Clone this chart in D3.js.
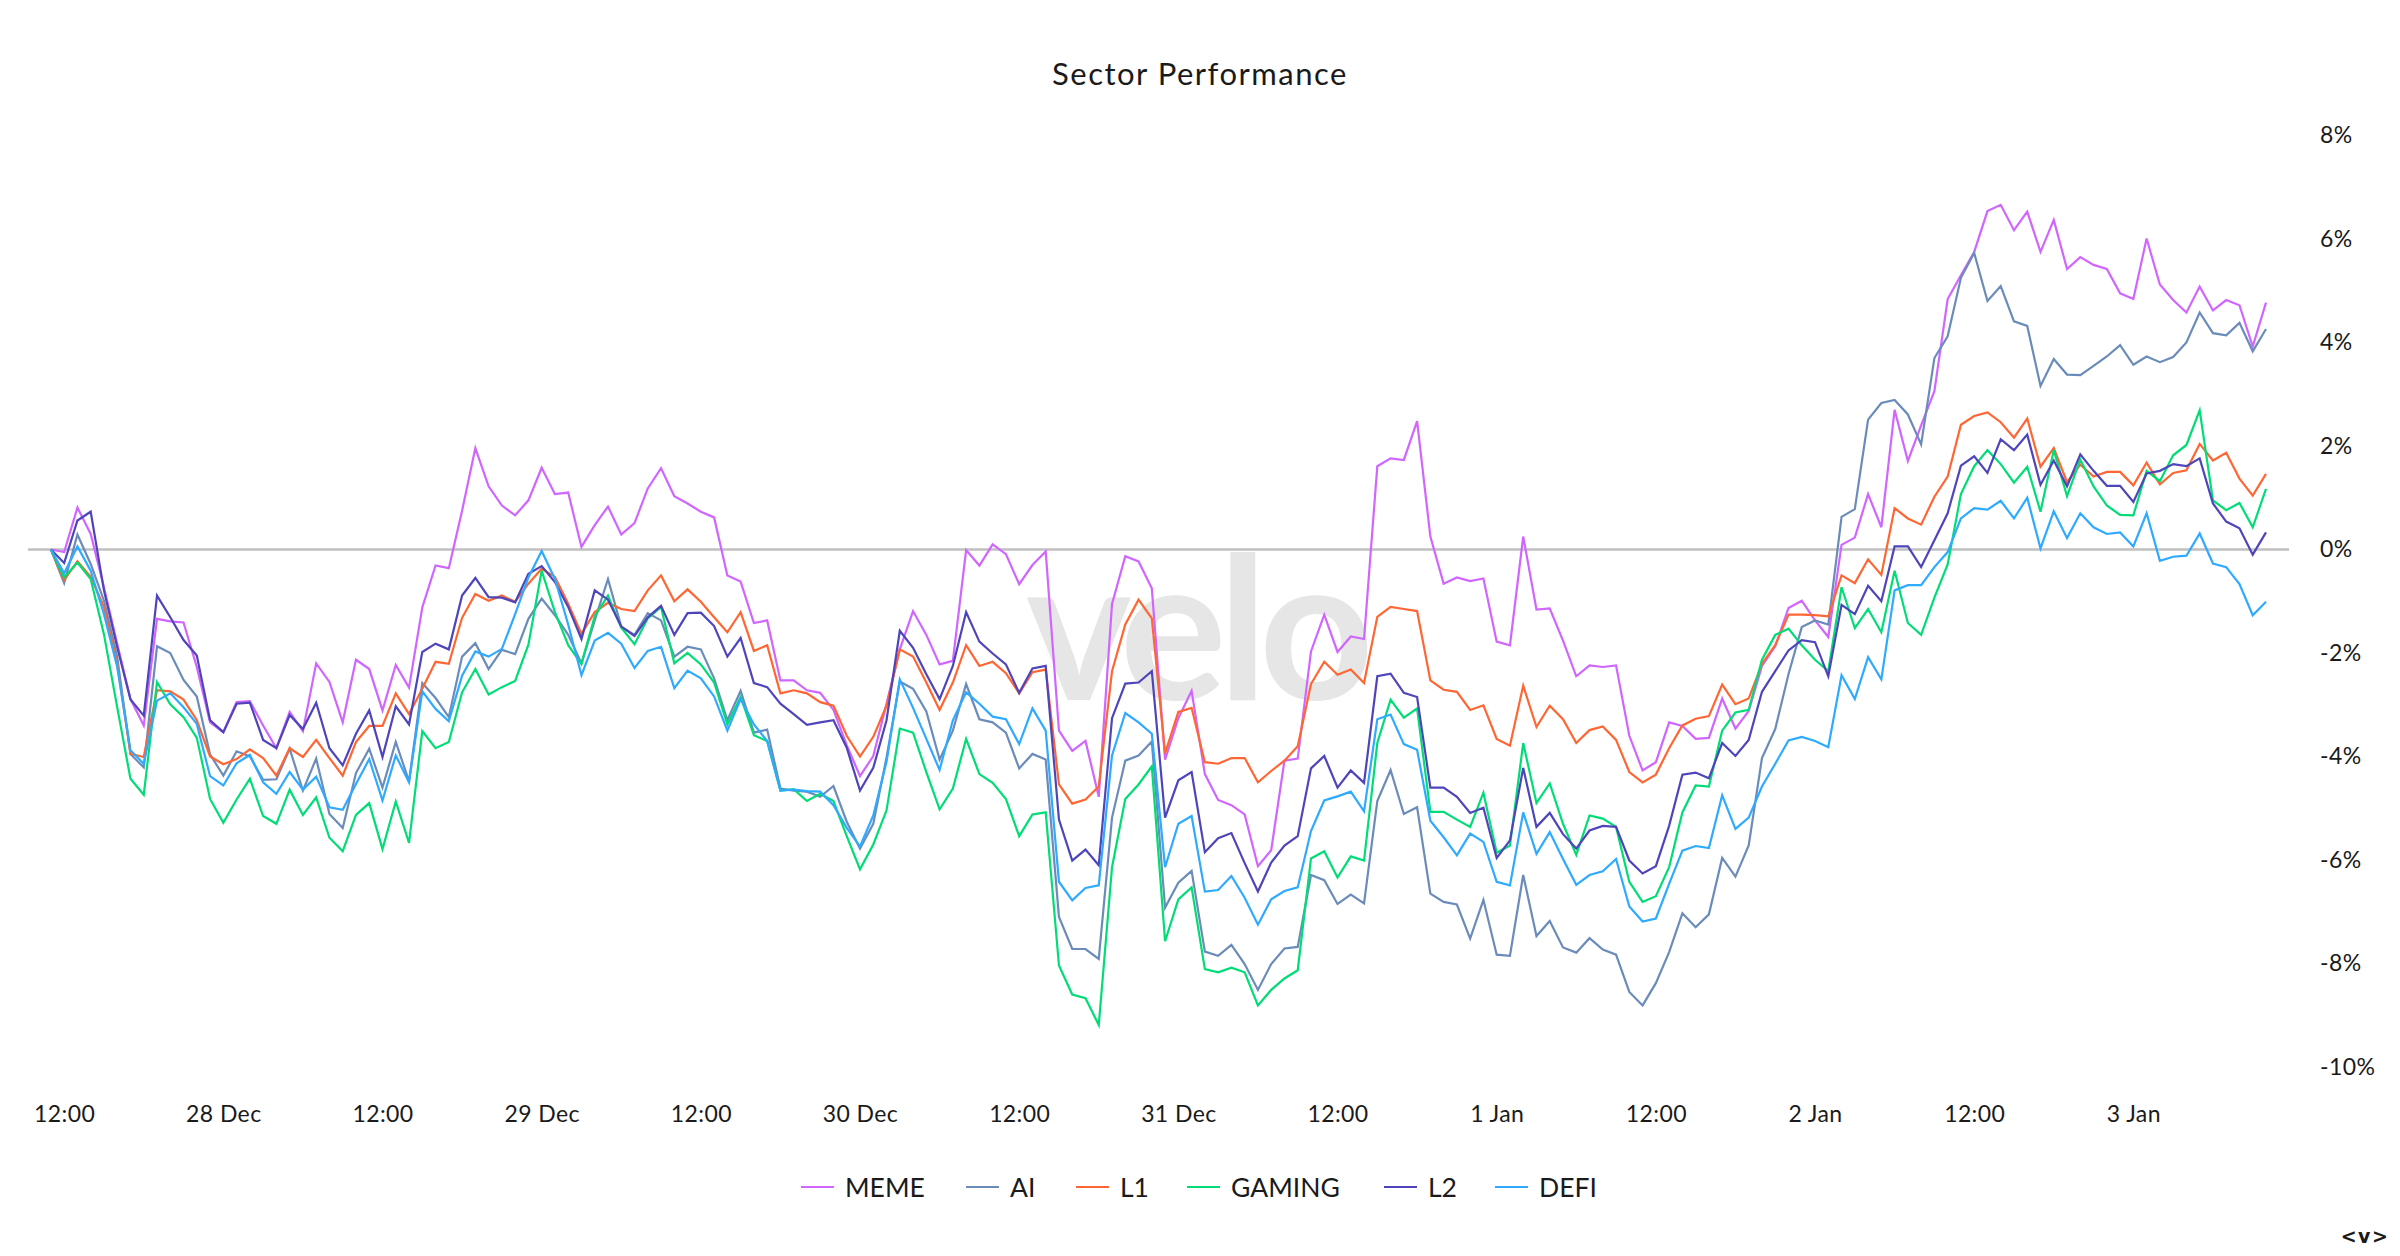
<!DOCTYPE html>
<html>
<head>
<meta charset="utf-8">
<script src="https://cdn.jsdelivr.net/npm/d3@7"></script>
<style>
  html, body { margin: 0; padding: 0; background: #fff; }
  svg { display: block; }
  text { font-family: Lato, "Noto Sans", sans-serif; fill: #1a1a1a; }
</style>
</head>
<body>
<script>
var WIDTH = 2400, HEIGHT = 1256;

// hourly closes, % change since the first hour
var meme = [
  0,-0.05,0.81,0.30,-0.73,-1.82,-2.89,-3.40,-1.34,-1.39,
  -1.41,-2.27,-3.34,-3.53,-2.95,-2.93,-3.40,-3.84,-3.14,-3.51,
  -2.20,-2.56,-3.34,-2.13,-2.31,-3.11,-2.23,-2.67,-1.12,-0.31,
  -0.36,0.75,1.96,1.22,0.85,0.66,0.95,1.58,1.07,1.10,
  0.05,0.47,0.83,0.29,0.51,1.18,1.57,1.03,0.89,0.73,
  0.62,-0.50,-0.62,-1.42,-1.37,-2.53,-2.53,-2.72,-2.77,-3.10,
  -3.78,-4.38,-3.99,-2.98,-1.93,-1.19,-1.65,-2.22,-2.15,-0.01,
  -0.31,0.10,-0.09,-0.67,-0.30,-0.04,-3.50,-3.89,-3.70,-4.78,
  -1.05,-0.13,-0.23,-0.75,-4.06,-3.26,-2.73,-4.34,-4.84,-4.94,
  -5.12,-6.12,-5.81,-4.08,-4.04,-1.97,-1.26,-1.98,-1.68,-1.73,
  1.61,1.76,1.73,2.48,0.25,-0.66,-0.54,-0.61,-0.56,-1.78,
  -1.85,0.25,-1.16,-1.14,-1.76,-2.45,-2.24,-2.27,-2.24,-3.60,
  -4.27,-4.11,-3.34,-3.41,-3.66,-3.64,-2.88,-3.46,-3.12,-2.25,
  -1.87,-1.13,-0.99,-1.37,-1.69,0.09,0.23,1.07,0.43,2.70,
  1.71,2.40,3.06,4.84,5.30,5.75,6.54,6.66,6.17,6.53,
  5.75,6.37,5.42,5.65,5.50,5.42,4.95,4.84,6.01,5.12,
  4.82,4.58,5.08,4.62,4.82,4.72,3.92,4.77
];
var ai = [
  0,-0.65,0.29,-0.28,-0.99,-2.08,-3.95,-4.21,-1.87,-2.00,
  -2.52,-2.84,-3.96,-4.37,-3.90,-4.00,-4.45,-4.44,-3.85,-4.66,
  -4.04,-5.11,-5.38,-4.32,-3.85,-4.60,-3.72,-4.48,-2.58,-2.87,
  -3.24,-2.07,-1.81,-2.31,-1.94,-2.02,-1.34,-0.95,-1.27,-1.65,
  -2.20,-1.37,-0.57,-1.49,-1.65,-1.23,-1.37,-2.07,-1.88,-1.93,
  -2.49,-3.30,-2.73,-3.54,-3.48,-4.62,-4.66,-4.68,-4.78,-4.57,
  -5.26,-5.78,-5.30,-4.02,-2.55,-2.69,-3.13,-4.06,-3.50,-2.60,
  -3.28,-3.34,-3.54,-4.23,-3.95,-4.06,-7.10,-7.72,-7.72,-7.91,
  -5.18,-4.08,-3.98,-3.71,-6.92,-6.44,-6.21,-7.77,-7.85,-7.64,
  -8.01,-8.51,-8.01,-7.71,-7.68,-6.29,-6.39,-6.85,-6.67,-6.84,
  -4.86,-4.26,-5.11,-4.98,-6.65,-6.81,-6.86,-7.52,-6.77,-7.83,
  -7.85,-6.29,-7.47,-7.18,-7.69,-7.79,-7.51,-7.73,-7.83,-8.55,
  -8.81,-8.38,-7.78,-7.03,-7.30,-7.05,-5.96,-6.32,-5.72,-4.03,
  -3.47,-2.41,-1.50,-1.37,-1.45,0.63,0.78,2.51,2.83,2.89,
  2.61,2.03,3.70,4.12,5.25,5.73,4.80,5.09,4.41,4.32,
  3.16,3.68,3.38,3.37,3.55,3.73,3.95,3.57,3.73,3.62,
  3.72,4.00,4.58,4.18,4.14,4.38,3.83,4.26
];
var l1 = [
  0,-0.59,-0.23,-0.53,-1.11,-2.21,-3.95,-4.01,-2.72,-2.74,
  -2.90,-3.30,-4.00,-4.15,-4.05,-3.86,-4.03,-4.37,-3.84,-4.01,
  -3.68,-4.03,-4.37,-3.72,-3.41,-3.41,-2.78,-3.18,-2.69,-2.17,
  -2.21,-1.32,-0.86,-0.99,-0.89,-1.01,-0.66,-0.37,-0.53,-1.05,
  -1.63,-1.21,-1.03,-1.15,-1.19,-0.79,-0.50,-1.00,-0.77,-1.01,
  -1.31,-1.60,-1.21,-1.96,-1.85,-2.78,-2.72,-2.78,-2.95,-3.02,
  -3.60,-4.00,-3.62,-3.02,-1.93,-2.07,-2.57,-3.10,-2.57,-1.85,
  -2.25,-2.17,-2.39,-2.78,-2.37,-2.32,-4.54,-4.91,-4.83,-4.58,
  -2.35,-1.45,-0.97,-1.33,-3.94,-3.14,-3.06,-4.11,-4.14,-4.03,
  -4.03,-4.50,-4.28,-4.08,-3.80,-2.60,-2.17,-2.42,-2.32,-2.58,
  -1.30,-1.11,-1.15,-1.19,-2.53,-2.71,-2.75,-3.10,-3.01,-3.66,
  -3.79,-2.63,-3.43,-3.02,-3.28,-3.74,-3.49,-3.42,-3.68,-4.30,
  -4.50,-4.35,-3.84,-3.40,-3.27,-3.22,-2.61,-2.99,-2.88,-2.21,
  -1.85,-1.26,-1.26,-1.27,-1.29,-0.50,-0.65,-0.19,-0.49,0.80,
  0.60,0.48,1.02,1.41,2.41,2.58,2.65,2.46,2.16,2.53,
  1.60,1.96,1.30,1.64,1.41,1.50,1.50,1.24,1.68,1.26,
  1.48,1.53,2.04,1.72,1.87,1.37,1.04,1.46
];
var gaming = [
  0,-0.54,-0.25,-0.57,-1.64,-3.05,-4.43,-4.74,-2.56,-2.99,
  -3.24,-3.64,-4.82,-5.28,-4.83,-4.43,-5.15,-5.30,-4.64,-5.13,
  -4.79,-5.57,-5.83,-5.13,-4.90,-5.79,-4.87,-5.67,-3.51,-3.84,
  -3.72,-2.76,-2.31,-2.80,-2.66,-2.54,-1.84,-0.41,-1.21,-1.85,
  -2.21,-1.29,-0.89,-1.51,-1.83,-1.33,-1.11,-2.20,-2.00,-2.22,
  -2.57,-3.38,-2.85,-3.59,-3.70,-4.66,-4.63,-4.86,-4.72,-4.86,
  -5.54,-6.18,-5.70,-5.04,-3.46,-3.54,-4.30,-5.02,-4.62,-3.66,
  -4.34,-4.51,-4.82,-5.54,-5.12,-5.08,-8.04,-8.60,-8.67,-9.19,
  -6.14,-4.82,-4.54,-4.19,-7.57,-6.76,-6.53,-8.11,-8.17,-8.08,
  -8.17,-8.81,-8.51,-8.29,-8.13,-5.97,-5.83,-6.34,-5.93,-6.01,
  -3.74,-2.90,-3.25,-3.07,-5.07,-5.07,-5.22,-5.36,-4.70,-5.86,
  -5.72,-3.74,-4.90,-4.52,-5.30,-5.90,-5.14,-5.20,-5.36,-6.42,
  -6.81,-6.70,-6.14,-5.08,-4.56,-4.58,-3.50,-3.15,-3.10,-2.13,
  -1.65,-1.53,-1.85,-2.13,-2.35,-0.73,-1.52,-1.15,-1.60,-0.41,
  -1.42,-1.65,-0.93,-0.29,1.07,1.61,1.92,1.65,1.29,1.60,
  0.73,1.92,1.03,1.74,1.22,0.85,0.67,0.66,1.52,1.32,
  1.82,2.02,2.69,0.95,0.76,0.90,0.43,1.17
];
var l2 = [
  0,-0.26,0.56,0.73,-0.79,-1.89,-2.90,-3.21,-0.89,-1.31,
  -1.75,-2.05,-3.30,-3.53,-2.98,-2.96,-3.68,-3.84,-3.20,-3.47,
  -2.96,-3.84,-4.17,-3.56,-3.11,-4.01,-3.03,-3.38,-1.98,-1.82,
  -1.93,-0.89,-0.55,-0.92,-0.93,-1.02,-0.47,-0.32,-0.63,-1.11,
  -1.73,-0.79,-0.97,-1.49,-1.67,-1.31,-1.09,-1.65,-1.23,-1.22,
  -1.48,-2.07,-1.71,-2.58,-2.66,-2.98,-3.18,-3.39,-3.34,-3.30,
  -3.83,-4.66,-4.22,-3.30,-1.57,-1.90,-2.41,-2.89,-2.25,-1.21,
  -1.78,-2.01,-2.22,-2.77,-2.30,-2.25,-5.22,-6.01,-5.80,-6.10,
  -3.26,-2.59,-2.57,-2.35,-5.18,-4.46,-4.30,-5.85,-5.58,-5.48,
  -6.06,-6.61,-6.05,-5.72,-5.54,-4.23,-3.99,-4.60,-4.27,-4.51,
  -2.45,-2.40,-2.77,-2.85,-4.60,-4.60,-4.78,-5.09,-4.99,-5.96,
  -5.62,-4.22,-5.36,-5.09,-5.50,-5.78,-5.43,-5.34,-5.36,-6.01,
  -6.26,-6.12,-5.34,-4.35,-4.31,-4.42,-3.74,-3.99,-3.68,-2.75,
  -2.35,-1.95,-1.75,-1.79,-2.45,-1.07,-1.25,-0.70,-1.00,0.06,
  0.06,-0.34,0.18,0.70,1.62,1.80,1.48,2.13,1.92,2.22,
  1.25,1.72,1.22,1.84,1.52,1.23,1.23,0.92,1.47,1.52,
  1.65,1.61,1.76,0.89,0.54,0.41,-0.10,0.33
];
var defi = [
  0,-0.46,0.06,-0.41,-1.25,-2.27,-3.88,-4.14,-2.92,-2.78,
  -3.05,-3.37,-4.38,-4.56,-4.13,-3.97,-4.50,-4.72,-4.30,-4.64,
  -4.39,-4.98,-5.03,-4.53,-4.05,-4.85,-3.98,-4.50,-2.74,-3.08,
  -3.32,-2.44,-1.97,-2.07,-1.92,-1.25,-0.54,-0.03,-0.57,-1.45,
  -2.43,-1.76,-1.61,-1.82,-2.29,-1.96,-1.88,-2.68,-2.34,-2.49,
  -2.84,-3.50,-2.89,-3.38,-3.70,-4.66,-4.64,-4.67,-4.68,-4.94,
  -5.38,-5.74,-5.14,-4.10,-2.51,-3.06,-3.66,-4.26,-3.30,-2.76,
  -2.98,-3.23,-3.28,-3.76,-3.07,-3.50,-6.42,-6.78,-6.54,-6.49,
  -3.98,-3.16,-3.34,-3.56,-6.14,-5.30,-5.15,-6.61,-6.58,-6.31,
  -6.73,-7.25,-6.76,-6.60,-6.53,-5.44,-4.85,-4.77,-4.68,-5.06,
  -3.28,-3.19,-3.76,-3.87,-5.24,-5.56,-5.91,-5.49,-5.65,-6.42,
  -6.49,-5.08,-5.88,-5.46,-5.98,-6.48,-6.29,-6.22,-5.98,-6.90,
  -7.19,-7.13,-6.46,-5.82,-5.73,-5.77,-4.75,-5.40,-5.18,-4.58,
  -4.14,-3.69,-3.62,-3.70,-3.82,-2.43,-2.89,-2.08,-2.51,-0.79,
  -0.69,-0.69,-0.34,-0.05,0.60,0.80,0.77,0.94,0.60,1.00,
  0.02,0.74,0.22,0.70,0.43,0.30,0.33,0.06,0.70,-0.22,
  -0.14,-0.12,0.31,-0.27,-0.34,-0.67,-1.27,-1.01
];

var seriesNames = ['MEME', 'AI', 'L1', 'GAMING', 'L2', 'DEFI'];
var seriesValues = [meme, ai, l1, gaming, l2, defi];
var seriesColors = ['#d066ff', '#6b8cba', '#ff6633', '#00dd77', '#4f45bb', '#2eaaff'];

var yTicks = [-10, -8, -6, -4, -2, 0, 2, 4, 6, 8];
var xTickDates = d3.range(0, 14).map(function(i) {
  return new Date(Date.UTC(2024, 11, 27, 12 + i * 12));
});
var startTime = Date.UTC(2024, 11, 27, 11);

function hourDate(i) {
  return new Date(startTime + i * 3600000);
}

var x = d3.scaleUtc()
  .domain([hourDate(0), hourDate(167)])
  .range([50.9, 2266]);

var y = d3.scaleLinear()
  .domain([-10, 8])
  .range([1067, 135.5]);

var svg = d3.select('body').append('svg')
  .attr('width', WIDTH)
  .attr('height', HEIGHT);

// watermark sits under everything
svg.append('text')
  .attr('x', 1026)
  .attr('y', 700)
  .attr('textLength', 348)
  .attr('lengthAdjust', 'spacing')
  .style('font-size', '200px')
  .style('font-weight', 700)
  .style('fill', '#e6e6e6')
  .text('velo');

svg.append('text')
  .attr('x', 1200)
  .attr('y', 85)
  .attr('text-anchor', 'middle')
  .style('font-size', '31px')
  .style('letter-spacing', '1.5px')
  .text('Sector Performance');

// zero line
svg.append('line')
  .attr('x1', 28)
  .attr('x2', 2289)
  .attr('y1', y(0))
  .attr('y2', y(0))
  .attr('stroke', '#c0c0c0')
  .attr('stroke-width', 2.5);

var yAxis = d3.axisRight(y)
  .tickValues(yTicks)
  .tickSize(0)
  .tickPadding(0)
  .tickFormat(function(d) { return d + '%'; });

svg.append('g')
  .attr('transform', 'translate(2320,0)')
  .call(yAxis)
  .call(function(g) { g.select('.domain').remove(); })
  .selectAll('text')
  .style('font-size', '23px')
  .style('letter-spacing', '0.4px')
  .style('font-family', 'Lato, sans-serif');

var xAxis = d3.axisBottom(x)
  .tickValues(xTickDates)
  .tickSize(0)
  .tickPadding(0)
  .tickFormat(function(d) {
    if (d.getUTCHours() === 12) return '12:00';
    return d.getUTCDate() + ' ' + (d.getUTCMonth() === 11 ? 'Dec' : 'Jan');
  });

svg.append('g')
  .attr('transform', 'translate(0,1106)')
  .call(xAxis)
  .call(function(g) { g.select('.domain').remove(); })
  .selectAll('text')
  .style('font-size', '23px')
  .style('letter-spacing', '0.4px')
  .style('font-family', 'Lato, sans-serif');

var line = d3.line()
  .x(function(d, i) { return x(hourDate(i)); })
  .y(function(d) { return y(d); });

svg.append('g')
  .selectAll('path')
  .data(seriesValues)
  .enter()
  .append('path')
  .attr('d', line)
  .attr('fill', 'none')
  .attr('stroke', function(d, i) { return seriesColors[i]; })
  .attr('stroke-width', 2.2)
  .attr('stroke-linejoin', 'miter');

// legend
var legendStarts = [801, 966, 1076, 1187, 1384, 1495];

var legend = svg.append('g')
  .selectAll('g')
  .data(seriesNames)
  .enter()
  .append('g')
  .attr('transform', function(d, i) { return 'translate(' + legendStarts[i] + ',1187)'; });

legend.append('line')
  .attr('x1', 0)
  .attr('x2', 33)
  .attr('stroke', function(d, i) { return seriesColors[i]; })
  .attr('stroke-width', 2.2);

legend.append('text')
  .attr('x', 44)
  .attr('y', 10)
  .style('font-size', '26.5px')
  .text(function(d) { return d; });

svg.append('text')
  .attr('x', 2365)
  .attr('y', 1243)
  .attr('text-anchor', 'middle')
  .style('font-family', '"DejaVu Sans", sans-serif')
  .style('font-size', '19px')
  .style('font-weight', 700)
  .style('letter-spacing', '1.5px')
  .text('<v>');
</script>
</body>
</html>
